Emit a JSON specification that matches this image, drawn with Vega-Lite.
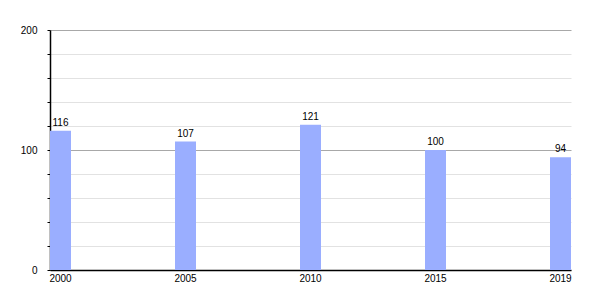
{
  "$schema": "https://vega.github.io/schema/vega-lite/v6.json",
  "autosize": {"type": "none"},
  "padding": {"left": 50, "top": 30, "right": 29, "bottom": 30},
  "width": 521,
  "height": 240,
  "background": "white",
  "config": {
    "view": {"stroke": null},
    "font": "Liberation Sans",
    "axis": {"labelFont": "Liberation Sans", "labelFontSize": 10, "labelColor": "#000", "domainColor": "#000", "tickColor": "#000"}
  },
  "data": {
    "values": [
      {"year": "2000", "value": 116},
      {"year": "2005", "value": 107},
      {"year": "2010", "value": 121},
      {"year": "2015", "value": 100},
      {"year": "2019", "value": 94}
    ]
  },
  "encoding": {
    "x": {
      "field": "year",
      "type": "nominal",
      "sort": null,
      "scale": {"paddingInner": 0.832, "paddingOuter": 0},
      "axis": {"title": null, "labelAngle": 0, "ticks": false, "labelPadding": 3, "domainWidth": 1.5, "grid": false}
    },
    "y": {
      "field": "value",
      "type": "quantitative",
      "scale": {"domain": [0, 200], "nice": false},
      "axis": {
        "title": null,
        "values": [0, 20, 40, 60, 80, 100, 120, 140, 160, 180, 200],
        "labelExpr": "datum.value % 100 === 0 ? datum.label : ''",
        "tickSize": 3,
        "labelPadding": 10,
        "domainWidth": 1.5,
        "grid": true,
        "gridColor": {"condition": {"test": "datum.value % 100 === 0", "value": "#a8a8a8"}, "value": "#e2e2e2"}
      }
    }
  },
  "layer": [
    {"mark": {"type": "bar", "color": "#9aaeff"}},
    {
      "mark": {"type": "text", "baseline": "bottom", "dy": -3, "fontSize": 10, "color": "#000"},
      "encoding": {"text": {"field": "value", "type": "quantitative"}}
    }
  ]
}
